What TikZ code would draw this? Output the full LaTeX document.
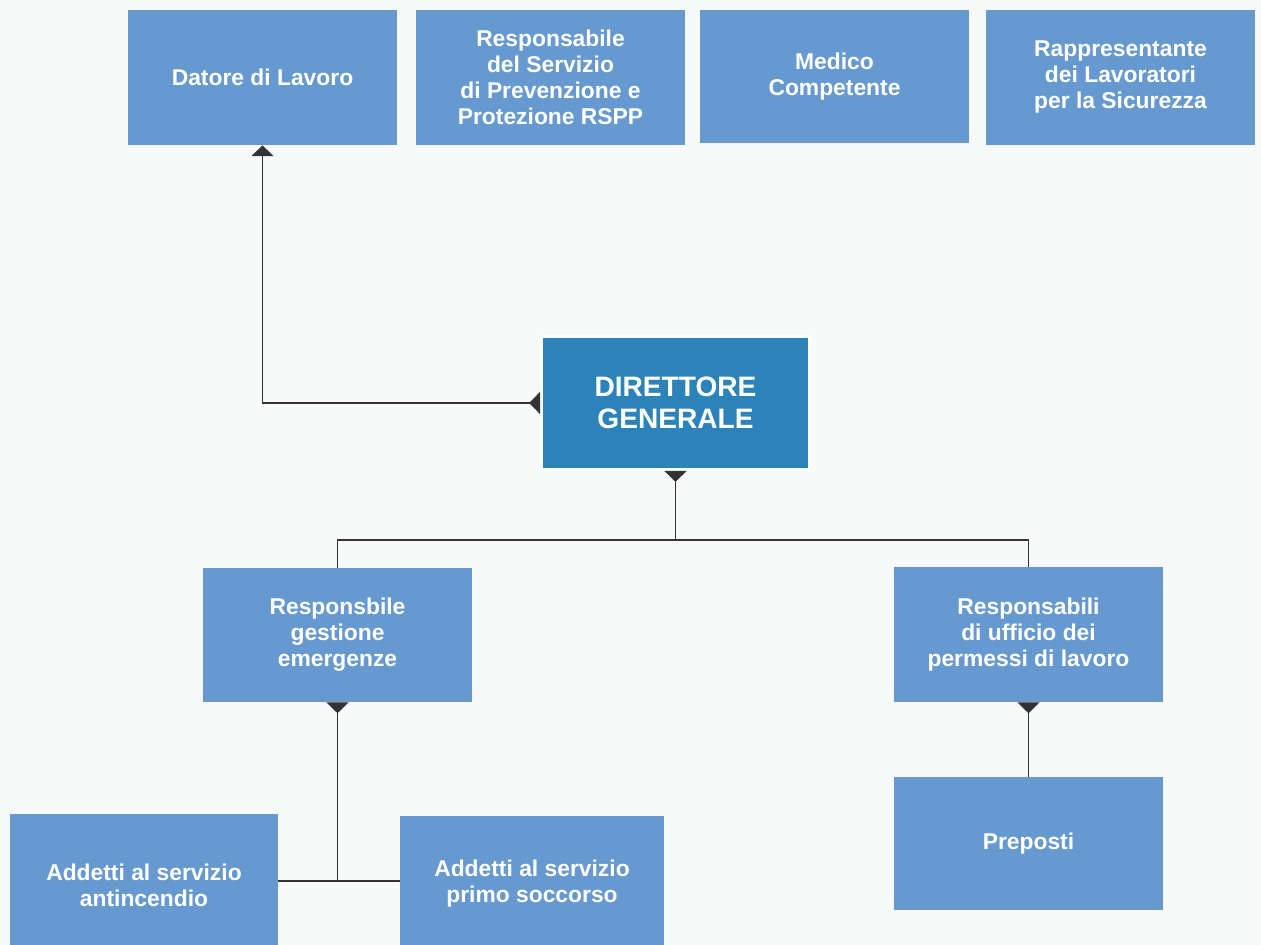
\documentclass[tikz,border=0pt]{standalone}
\usepackage{fontspec}
\setmainfont{Liberation Sans}
\usepackage{tikz}
\usetikzlibrary{arrows.meta}
\usetikzlibrary{positioning}

\definecolor{boxblu}{RGB}{102,153,208}
\definecolor{dirblu}{RGB}{43,131,186}
\definecolor{sfondo}{RGB}{248,250,250}
\definecolor{linea}{RGB}{51,51,51}

\begin{document}
\begin{tikzpicture}[x=0.02cm,y=-0.02cm,
	box/.style={fill=boxblu,text=white,font=\bfseries\fontsize{13}{14.8}\selectfont,align=center,inner sep=0pt,minimum width=5.38cm,minimum height=2.7cm},
	capo/.style={fill=dirblu,draw=white,line width=0.06cm,text=white,font=\bfseries\fontsize{16}{18.4}\selectfont,align=center,inner sep=0pt,minimum width=5.36cm,minimum height=2.66cm},
	legame/.style={draw=linea,line width=0.6pt}]
	
	\useasboundingbox (0,0) rectangle (1261,945);
	\clip (0,0) rectangle (1261,945);
	\fill[sfondo] (0,0) rectangle (1261,945);
	
	% riga in alto
	\node (dl) at (262.5,77.5)[box] {Datore di Lavoro};
	\node (rspp) at (550.5,77.5)[box] {Responsabile\\del Servizio\\di Prevenzione e\\Protezione RSPP};
	\node (mc) at (834.5,76.5)[box,minimum height=2.66cm] {Medico\\Competente};
	\node (rls) at (1120.5,77.5)[box] {Rappresentante\\dei Lavoratori\\per la Sicurezza};
	
	% direttore
	\node (dg) at (675.5,403)[capo] {DIRETTORE\\GENERALE};
	
	% secondo livello
	\node (rge) at (337.5,635)[box,minimum height=2.68cm] {Responsbile\\gestione\\emergenze};
	\node (rup) at (1028.5,634.5)[box] {Responsabili\\di ufficio dei\\permessi di lavoro};
	
	% terzo livello
	\node (ain) at (144,885)[box,minimum width=5.36cm,minimum height=2.84cm] {Addetti al servizio\\antincendio};
	\node (aps) at (532,884)[box,minimum width=5.28cm,minimum height=2.72cm] {Addetti al servizio\\primo soccorso};
	\node (pre) at (1028.5,843.5)[box,minimum height=2.66cm] {Preposti};
	
	\coordinate (bus) at (675.5,540);
	\coordinate (nodo) at (337.5,881);
	
	\draw[legame,{Triangle[reversed,length=6.2pt,width=12.5pt]}-{Triangle[length=6.2pt,width=12.5pt]}] (dg.west) -| (dl.south);
	
	\draw[legame,{Triangle[reversed,length=6.2pt,width=12.5pt]}-] (dg.south) -- (bus);
	\draw[legame] (bus) -| (rge.north);
	\draw[legame] (bus) -| (rup.north);
	
	\draw[legame,{Triangle[reversed,length=6.2pt,width=12.5pt]}-] (rge.south) -- (nodo);
	\draw[legame] (ain.east |- nodo) -- (aps.west |- nodo);
	
	\draw[legame,{Triangle[reversed,length=6.2pt,width=12.5pt]}-] (rup.south) -- (pre.north);
\end{tikzpicture}
\end{document}
